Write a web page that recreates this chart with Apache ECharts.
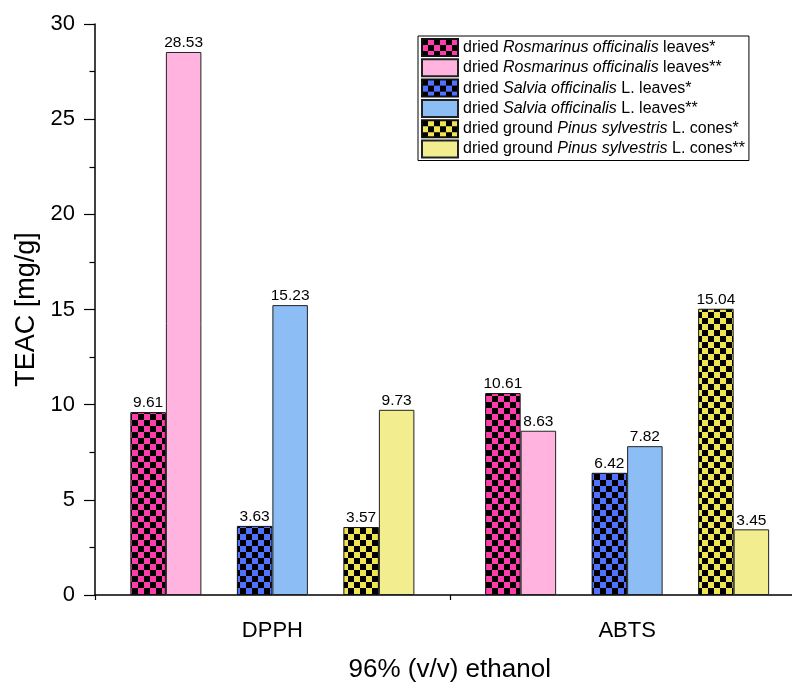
<!DOCTYPE html>
<html><head><meta charset="utf-8">
<script src="https://cdn.jsdelivr.net/npm/echarts@6/dist/echarts.min.js"></script>
<style>html,body{margin:0;padding:0;background:#fff;overflow:hidden}#c{width:805px;height:684px}</style>
</head><body><div id="c"></div>
<script>
const categories = ['DPPH', 'ABTS'];
const seriesNames = [
  'dried Rosmarinus officinalis leaves*',
  'dried Rosmarinus officinalis leaves**',
  'dried Salvia officinalis L. leaves*',
  'dried Salvia officinalis L. leaves**',
  'dried ground Pinus sylvestris L. cones*',
  'dried ground Pinus sylvestris L. cones**'
];
const rosmarinusStar = [9.61, 10.61];
const rosmarinusStar2 = [28.53, 8.63];
const salviaStar = [3.63, 6.42];
const salviaStar2 = [15.23, 7.82];
const pinusStar = [3.57, 15.04];
const pinusStar2 = [9.73, 3.45];
const yTicks = [0, 5, 10, 15, 20, 25, 30];

const richNames = {
  'dried Rosmarinus officinalis leaves*': 'dried {i|Rosmarinus officinalis} leaves*',
  'dried Rosmarinus officinalis leaves**': 'dried {i|Rosmarinus officinalis} leaves**',
  'dried Salvia officinalis L. leaves*': 'dried {i|Salvia officinalis} L. leaves*',
  'dried Salvia officinalis L. leaves**': 'dried {i|Salvia officinalis} L. leaves**',
  'dried ground Pinus sylvestris L. cones*': 'dried ground {i|Pinus sylvestris} L. cones*',
  'dried ground Pinus sylvestris L. cones**': 'dried ground {i|Pinus sylvestris} L. cones**'
};

function checker(col) {
  const s = 6;
  const cv = document.createElement('canvas');
  cv.width = 2 * s; cv.height = 2 * s;
  const ctx = cv.getContext('2d');
  ctx.fillStyle = col; ctx.fillRect(0, 0, 2 * s, 2 * s);
  ctx.fillStyle = '#000';
  ctx.fillRect(0, 0, s, s);
  ctx.fillRect(s, s, s, s);
  return { image: cv, repeat: 'repeat' };
}

const FONT = 'Liberation Sans, Arial, sans-serif';
const BW = 35.5;

function bar(name, data, color, border) {
  return {
    name: name, type: 'bar', data: data, barWidth: BW, barGap: '0%', barCategoryGap: '20%',
    itemStyle: { color: color, borderColor: border, borderWidth: 1 },
    label: { show: true, position: 'top', distance: 1, color: '#000', fontSize: 15.5, fontFamily: FONT,
      formatter: p => p.value.toFixed(2) },
    emphasis: { disabled: true }
  };
}
function ghost() {
  return { type: 'bar', data: [null, null], barWidth: BW, barGap: '0%', silent: true, itemStyle: { color: 'transparent' } };
}

const series = [
  bar(seriesNames[0], rosmarinusStar, checker('#FF3DAA'), '#111'),
  bar(seriesNames[1], rosmarinusStar2, '#FFB3DE', '#222'),
  ghost(),
  bar(seriesNames[2], salviaStar, checker('#5271FF'), '#111'),
  bar(seriesNames[3], salviaStar2, '#8DBDF5', '#222'),
  ghost(),
  bar(seriesNames[4], pinusStar, checker('#F0E452'), '#111'),
  bar(seriesNames[5], pinusStar2, '#F2EE90', '#222')
];

const chart = echarts.init(document.getElementById('c'), null, { renderer: 'canvas' });
chart.setOption({
  animation: false,
  backgroundColor: '#fff',
  grid: { left: 95, top: 24, right: 0.5, height: 571, containLabel: false, outerBoundsMode: 'none' },
  legend: {
    data: seriesNames, orient: 'vertical', left: 418, top: 36,
    icon: 'rect',
    itemWidth: 36, itemHeight: 17, itemGap: 1.3,
    borderColor: '#000', borderWidth: 1, padding: [2, 4, 2, 3],
    formatter: n => richNames[n],
    textStyle: { fontSize: 16, lineHeight: 17, fontFamily: FONT, color: '#000',
      rich: { i: { fontStyle: 'italic', fontSize: 16, lineHeight: 17, fontFamily: FONT, color: '#000' } } },
    selectedMode: false
  },
  xAxis: [{
    type: 'category', data: categories,
    name: '96% (v/v) ethanol', nameLocation: 'middle', nameGap: 62,
    nameTextStyle: { fontSize: 26, fontFamily: FONT, color: '#000' },
    axisLine: { lineStyle: { color: '#000', width: 1.5 } },
    axisTick: { alignWithLabel: true, length: 10, lineStyle: { color: '#000', width: 1.2 } },
    axisLabel: { fontSize: 22, fontFamily: FONT, color: '#000', margin: 25 }
  }, {
    type: 'value', position: 'bottom', min: 0, max: 2, interval: 1,
    axisLine: { show: false }, axisLabel: { show: false }, splitLine: { show: false },
    axisTick: { show: true, length: 5, inside: false, lineStyle: { color: '#000', width: 1.2 } }
  }],
  yAxis: {
    type: 'value', min: yTicks[0], max: yTicks[yTicks.length - 1], interval: 5,
    name: 'TEAC [mg/g]', nameLocation: 'middle', nameGap: 49,
    nameTextStyle: { fontSize: 27, fontFamily: FONT, color: '#000' },
    axisLine: { show: true, lineStyle: { color: '#000', width: 1.5 } },
    axisTick: { show: true, length: 11, lineStyle: { color: '#000', width: 1.2 } },
    minorTick: { show: true, splitNumber: 2, length: 5.5, lineStyle: { color: '#000', width: 1.2 } },
    axisLabel: { fontSize: 22, fontFamily: FONT, color: '#000', margin: 20 },
    splitLine: { show: false }
  },
  series: series
});
</script></body></html>
